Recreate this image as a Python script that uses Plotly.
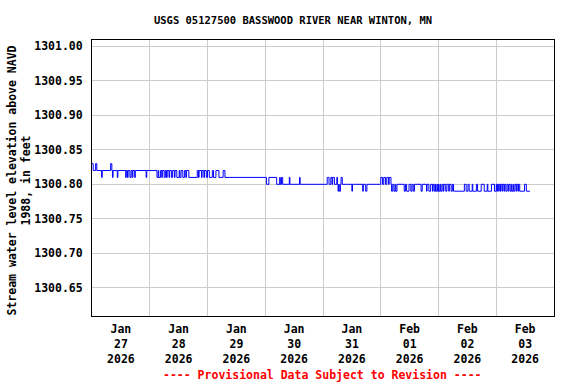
import plotly.graph_objects as go

TITLE = "USGS 05127500 BASSWOOD RIVER NEAR WINTON, MN"
Y_TITLE = "Stream water level elevation above NAVD<br>1988, in feet"
NOTE = "---- Provisional Data Subject to Revision ----"

# change points of the gage-height record (value holds until next time)
times = [
    "2026-01-27 00:00", "2026-01-27 00:30", "2026-01-27 01:30", "2026-01-27 02:00",
    "2026-01-27 04:00", "2026-01-27 04:15", "2026-01-27 07:45", "2026-01-27 08:15",
    "2026-01-27 08:30", "2026-01-27 08:45", "2026-01-27 10:30", "2026-01-27 10:45",
    "2026-01-27 14:00", "2026-01-27 14:15", "2026-01-27 14:45", "2026-01-27 15:00",
    "2026-01-27 15:45", "2026-01-27 16:15", "2026-01-27 16:45", "2026-01-27 17:00",
    "2026-01-27 17:45", "2026-01-27 18:00", "2026-01-27 22:30", "2026-01-27 22:45",
    "2026-01-28 03:00", "2026-01-28 03:30", "2026-01-28 03:45", "2026-01-28 04:30",
    "2026-01-28 05:00", "2026-01-28 05:15", "2026-01-28 06:00", "2026-01-28 06:30",
    "2026-01-28 07:00", "2026-01-28 07:15", "2026-01-28 08:00", "2026-01-28 08:15",
    "2026-01-28 09:00", "2026-01-28 09:30", "2026-01-28 10:15", "2026-01-28 10:30",
    "2026-01-28 11:15", "2026-01-28 12:15", "2026-01-28 12:30", "2026-01-28 13:00",
    "2026-01-28 13:45", "2026-01-28 14:30", "2026-01-28 15:00", "2026-01-28 15:15",
    "2026-01-28 16:15", "2026-01-28 19:45", "2026-01-28 20:15", "2026-01-28 20:30",
    "2026-01-28 21:30", "2026-01-28 21:45", "2026-01-28 22:30", "2026-01-28 22:45",
    "2026-01-28 23:30",
    "2026-01-29 00:00", "2026-01-29 00:45", "2026-01-29 02:00", "2026-01-29 02:30",
    "2026-01-29 03:30", "2026-01-29 04:45", "2026-01-29 06:30", "2026-01-29 07:15",
    "2026-01-30 00:30", "2026-01-30 01:30", "2026-01-30 04:45", "2026-01-30 06:00",
    "2026-01-30 06:15", "2026-01-30 06:45", "2026-01-30 07:15", "2026-01-30 10:00",
    "2026-01-30 10:15", "2026-01-30 14:15", "2026-01-30 14:30",
    "2026-01-31 01:45", "2026-01-31 02:30", "2026-01-31 03:15", "2026-01-31 03:45",
    "2026-01-31 04:00", "2026-01-31 04:45", "2026-01-31 05:45", "2026-01-31 06:00",
    "2026-01-31 06:15", "2026-01-31 06:30", "2026-01-31 06:45", "2026-01-31 07:15",
    "2026-01-31 07:30", "2026-01-31 08:00", "2026-01-31 12:00", "2026-01-31 12:15",
    "2026-01-31 16:30", "2026-01-31 16:45", "2026-01-31 17:45", "2026-01-31 18:15",
    "2026-02-01 00:00", "2026-02-01 00:45", "2026-02-01 01:15", "2026-02-01 02:00",
    "2026-02-01 02:30", "2026-02-01 03:15", "2026-02-01 03:30", "2026-02-01 04:15",
    "2026-02-01 04:30", "2026-02-01 05:00", "2026-02-01 05:30", "2026-02-01 06:00",
    "2026-02-01 06:15", "2026-02-01 06:45", "2026-02-01 09:45", "2026-02-01 10:15",
    "2026-02-01 10:45", "2026-02-01 11:45", "2026-02-01 12:30", "2026-02-01 13:00",
    "2026-02-01 13:30", "2026-02-01 14:00", "2026-02-01 16:45", "2026-02-01 17:15",
    "2026-02-01 19:00", "2026-02-01 19:15", "2026-02-01 20:00", "2026-02-01 20:45",
    "2026-02-01 21:30", "2026-02-01 21:45", "2026-02-01 22:15", "2026-02-01 22:45",
    "2026-02-01 23:00", "2026-02-01 23:30", "2026-02-01 23:45",
    "2026-02-02 00:00", "2026-02-02 00:15", "2026-02-02 00:45", "2026-02-02 01:00",
    "2026-02-02 01:30", "2026-02-02 02:00", "2026-02-02 02:15", "2026-02-02 03:00",
    "2026-02-02 03:30", "2026-02-02 04:15", "2026-02-02 04:30", "2026-02-02 05:15",
    "2026-02-02 05:45", "2026-02-02 06:15", "2026-02-02 10:45", "2026-02-02 11:30",
    "2026-02-02 12:15", "2026-02-02 12:45", "2026-02-02 14:00", "2026-02-02 14:15",
    "2026-02-02 15:45", "2026-02-02 16:15", "2026-02-02 17:45", "2026-02-02 19:00",
    "2026-02-02 20:15", "2026-02-02 20:30", "2026-02-02 22:00", "2026-02-02 23:15",
    "2026-02-03 00:00", "2026-02-03 00:15", "2026-02-03 00:30", "2026-02-03 01:00",
    "2026-02-03 01:15", "2026-02-03 01:45", "2026-02-03 02:00", "2026-02-03 02:30",
    "2026-02-03 02:45", "2026-02-03 03:15", "2026-02-03 03:30", "2026-02-03 04:00",
    "2026-02-03 04:30", "2026-02-03 05:00", "2026-02-03 05:15", "2026-02-03 05:45",
    "2026-02-03 06:15", "2026-02-03 06:30", "2026-02-03 07:00", "2026-02-03 07:15",
    "2026-02-03 07:45", "2026-02-03 08:15", "2026-02-03 08:30", "2026-02-03 09:00",
    "2026-02-03 09:15", "2026-02-03 09:45", "2026-02-03 11:45", "2026-02-03 12:30",
    "2026-02-03 14:00",
]

levels = [
    1300.83, 1300.82, 1300.83, 1300.82,
    1300.81, 1300.82, 1300.83, 1300.82,
    1300.81, 1300.82, 1300.81, 1300.82,
    1300.81, 1300.82, 1300.81, 1300.82,
    1300.81, 1300.82, 1300.81, 1300.82,
    1300.81, 1300.82, 1300.81, 1300.82,
    1300.81, 1300.82, 1300.81, 1300.82,
    1300.81, 1300.82, 1300.81, 1300.82,
    1300.81, 1300.82, 1300.81, 1300.82,
    1300.81, 1300.82, 1300.81, 1300.82,
    1300.81, 1300.82, 1300.81, 1300.82,
    1300.81, 1300.82, 1300.81, 1300.82,
    1300.81, 1300.82, 1300.81, 1300.82,
    1300.81, 1300.82, 1300.81, 1300.82,
    1300.81,
    1300.82, 1300.81, 1300.82, 1300.81,
    1300.82, 1300.81, 1300.82, 1300.81,
    1300.80, 1300.81, 1300.80, 1300.81,
    1300.80, 1300.81, 1300.80, 1300.81,
    1300.80, 1300.81, 1300.80,
    1300.81, 1300.80, 1300.81, 1300.80,
    1300.81, 1300.80, 1300.81, 1300.80,
    1300.79, 1300.80, 1300.79, 1300.80,
    1300.81, 1300.80, 1300.79, 1300.80,
    1300.79, 1300.80, 1300.79, 1300.80,
    1300.81, 1300.80, 1300.81, 1300.80,
    1300.81, 1300.80, 1300.81, 1300.80,
    1300.79, 1300.80, 1300.79, 1300.80,
    1300.79, 1300.80, 1300.79, 1300.80,
    1300.79, 1300.80, 1300.79, 1300.80,
    1300.79, 1300.80, 1300.79, 1300.80,
    1300.79, 1300.80, 1300.79, 1300.80,
    1300.79, 1300.80, 1300.79, 1300.80,
    1300.79, 1300.80, 1300.79,
    1300.80, 1300.79, 1300.80, 1300.79,
    1300.80, 1300.79, 1300.80, 1300.79,
    1300.80, 1300.79, 1300.80, 1300.79,
    1300.80, 1300.79, 1300.80, 1300.79,
    1300.80, 1300.79, 1300.80, 1300.79,
    1300.80, 1300.79, 1300.80, 1300.79,
    1300.80, 1300.79, 1300.80, 1300.79,
    1300.80, 1300.79, 1300.80, 1300.79,
    1300.80, 1300.79, 1300.80, 1300.79,
    1300.80, 1300.79, 1300.80, 1300.79,
    1300.80, 1300.79, 1300.80, 1300.79,
    1300.80, 1300.79, 1300.80, 1300.79,
    1300.80, 1300.79, 1300.80, 1300.79,
    1300.80, 1300.79, 1300.80, 1300.79,
    1300.79,
]

y_ticks = [1300.65, 1300.70, 1300.75, 1300.80, 1300.85, 1300.90, 1300.95, 1301.00]
x_range = ["2026-01-27 00:00", "2026-02-04 00:00"]
y_range = [1300.609, 1301.0093]

FONT = "DejaVu Sans Mono"
L, R, T, B = 92, 22, 40, 68
PW, PH = 576 - L - R, 384 - T - B

fig = go.Figure()
fig.add_trace(go.Scatter(
    x=times, y=levels, mode="lines", line_shape="hv",
    line=dict(color="#0000ff", width=1), showlegend=False, hoverinfo="x+y",
))

tick_font = dict(family=FONT, size=11.5, color="black", weight="bold")

fig.update_layout(
    width=576, height=384,
    margin=dict(l=L, r=R, t=T, b=B, autoexpand=False),
    paper_bgcolor="white", plot_bgcolor="white",
    font=dict(family=FONT, size=11.5, color="black", weight="bold"),
    title=dict(text=TITLE, x=293 / 576, xref="container",
               xanchor="center", y=1 - 20 / 384, yref="container", yanchor="middle",
               automargin=False,
               font=dict(family=FONT, size=10.5, color="black", weight="bold")),
    xaxis=dict(
        type="date", range=x_range, dtick=86400000, tick0="2026-01-27",
        ticklabelmode="period", tickformat="%b<br>%d<br>%Y",
        showgrid=True, gridcolor="#cccccc", gridwidth=1,
        showline=True, linecolor="black", linewidth=1, mirror=True,
        ticks="", tickfont=tick_font, ticklabelstandoff=2, automargin=False,
    ),
    yaxis=dict(
        range=y_range, tickvals=y_ticks, tickformat=".2f",
        showgrid=True, gridcolor="#cccccc", gridwidth=1,
        showline=True, linecolor="black", linewidth=1, mirror=True,
        ticks="", tickfont=tick_font, ticklabelstandoff=6, zeroline=False,
        automargin=False,
    ),
    annotations=[
        dict(text=Y_TITLE, xref="paper", yref="paper",
             x=(18.5 - L) / PW, y=(384 - B - 181) / PH,
             xanchor="center", yanchor="middle", textangle=-90, showarrow=False,
             font=dict(family=FONT, size=11.5, color="black", weight="bold")),
        dict(text=NOTE, xref="paper", yref="paper",
             x=(322.5 - L) / PW, y=(384 - B - 375) / PH,
             xanchor="center", yanchor="middle", showarrow=False,
             font=dict(family=FONT, size=11.5, color="red", weight="bold")),
    ],
)

fig.write_html(
    "out.html",
    config={"displayModeBar": False},
    post_script="document.body.style.margin='0';document.body.style.overflow='hidden';",
)
